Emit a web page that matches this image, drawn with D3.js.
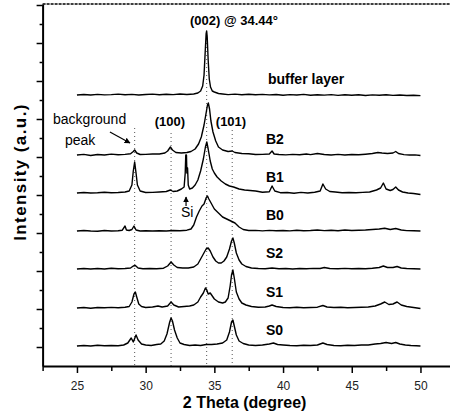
<!DOCTYPE html>
<html>
<head>
<meta charset="utf-8">
<script src="https://cdn.jsdelivr.net/npm/d3@7"></script>
<style>
  body { margin: 0; background: #fff; }
  svg { display: block; font-family: "Liberation Sans", Arial, sans-serif; }
</style>
</head>
<body>
<svg id="xrd" width="450" height="412"></svg>
<script>
// Stacked XRD patterns, 2 Theta 25-50 deg, offsets in arbitrary units.

const sampleNames = ["buffer layer", "B2", "B1", "B0", "S2", "S1", "S0"];
const offsets = [271, 211, 173, 135, 97, 58, 20];

const bufferLayer = [[25,0],[25.5,0.5],[26,0],[26.5,0.6],[27,0.1],[27.5,0.4],[28,0.9],[28.5,0.2],[29,0.6],[29.5,0],[30,0.5],[30.5,0.9],[31,0.3],[31.5,0.7],[32,0.4],[32.5,1],[33,0.5],[33.5,1],[33.8,2],[34,4],[34.15,9],[34.25,20],[34.33,42],[34.4,61],[34.44,64],[34.48,58],[34.55,35],[34.63,16],[34.72,8],[34.85,4],[35,3],[35.3,1.5],[35.6,1],[36,0.4],[36.5,0.9],[37,0.3],[37.5,0.7],[38,0.2],[38.5,0.6],[39,0.1],[39.5,0.5],[40,-0.2],[40.5,0.4],[41,0],[41.5,0.6],[42,-0.3],[42.5,0.3],[43,-0.1],[43.5,0.4],[44,-0.4],[44.5,0.2],[45,-0.2],[45.5,0.3],[46,-0.5],[46.5,0.1],[47,-0.3],[47.5,0.2],[48,-0.4],[48.5,0],[49,-0.5],[49.5,-0.2],[50,-0.6]];

const b2 = [[25,0],[25.5,0.6],[26,-0.5],[26.5,0.5],[27,0],[27.5,0.9],[28,0.2],[28.5,0.6],[28.9,1.2],[29.1,3.5],[29.2,5],[29.35,2],[29.6,0.5],[30,0.6],[30.5,1],[31,1],[31.4,2],[31.6,4],[31.8,8],[31.95,5],[32.2,2.5],[32.6,2],[33,2.5],[33.3,3.5],[33.6,6],[33.85,11],[34.05,18],[34.25,30],[34.4,42],[34.5,50],[34.56,52],[34.65,46],[34.75,34],[34.9,23],[35.1,14],[35.3,8],[35.6,5],[36,3.5],[36.3,4],[36.5,2.5],[37,1.5],[37.5,1.2],[38,0.5],[38.5,0.6],[39,1],[39.2,4],[39.35,1],[39.7,0.5],[40.2,0.1],[40.7,0.6],[41.2,0.3],[41.7,1],[42,0.4],[42.5,1.5],[43,0.5],[43.5,0],[44,0.6],[44.5,0],[45,0.5],[45.5,0.2],[46,0.8],[46.5,1.5],[46.9,2.5],[47.2,2],[47.6,1.5],[48,2],[48.2,3.5],[48.4,1.5],[48.8,0.4],[49.2,0],[49.6,0.1],[50,-0.5]];

const b1 = [[25,0],[25.5,0.5],[26,0],[26.5,0.3],[27,0.8],[27.5,0.3],[28,0.5],[28.5,1],[28.8,2],[29,8],[29.1,22],[29.2,31],[29.3,20],[29.4,8],[29.6,2],[30,0.5],[30.5,0.6],[31,1],[31.5,1.5],[31.8,3],[32,1.5],[32.3,2],[32.6,4],[32.8,6],[32.88,20],[32.92,38],[32.97,38],[33,20],[33.05,25],[33.1,8],[33.2,4],[33.4,5],[33.6,8],[33.8,13],[34,22],[34.2,34],[34.35,46],[34.45,51],[34.55,44],[34.7,32],[34.85,24],[35,20],[35.2,16],[35.5,12],[35.8,9],[36.1,7],[36.4,6],[36.8,4],[37.2,3],[37.6,2.5],[38,2],[38.5,0.8],[39,1.2],[39.2,7],[39.4,2],[39.8,0.3],[40.3,0.5],[40.8,-0.2],[41.3,0.6],[41.8,0],[42.3,0.8],[42.7,2],[42.9,9],[43.1,4],[43.4,1.5],[43.8,1],[44.3,0.3],[44.8,0.5],[45.3,0.2],[45.8,0.6],[46.3,1],[46.8,3],[47.1,5],[47.3,10],[47.5,4],[47.8,2.5],[48,3.5],[48.2,6],[48.4,3],[48.7,1],[49.1,0],[49.5,-0.5],[50,-1.5]];

const b0 = [[25,0],[25.5,0.5],[26,0],[26.5,-0.3],[27,0.5],[27.5,0],[28,0.3],[28.3,0.8],[28.5,5],[28.6,1],[28.8,0.5],[29,1.5],[29.15,5],[29.3,1],[29.6,0],[30,0.3],[30.5,0],[31,0.3],[31.5,0],[32,0.5],[32.5,0.3],[33,0.8],[33.3,2],[33.5,6],[33.7,14],[33.9,20],[34.1,25],[34.25,27],[34.4,33],[34.5,35],[34.6,32],[34.8,27],[35,22],[35.3,18],[35.6,14],[35.9,12],[36.2,10],[36.5,8],[36.8,4],[37.1,1.5],[37.5,0.5],[38,0.6],[38.5,0.1],[39,0.6],[39.5,0.2],[40,0.5],[40.5,0.1],[41,0.8],[41.5,0.3],[42,0.5],[42.5,1],[43,0.4],[43.5,0.8],[44,0.2],[44.5,1],[45,0.5],[45.5,0.8],[46,1],[46.5,1.5],[47,2],[47.4,2.8],[47.8,1.5],[48.2,2.5],[48.6,1],[49,0.4],[49.5,0.2],[50,0]];

const s2 = [[25,0],[25.5,0.5],[26,0],[26.5,0.5],[27,0],[27.5,0.8],[28,0.2],[28.5,0.5],[28.9,1],[29.1,3],[29.25,3.5],[29.45,1],[29.8,0.3],[30.3,0.5],[30.8,0.2],[31.3,0.8],[31.6,3],[31.85,7],[32.05,4],[32.3,1.5],[32.7,1],[33.1,1],[33.5,2],[33.8,5],[34,10],[34.2,15],[34.4,20],[34.55,21],[34.7,18],[34.9,12],[35.1,8],[35.3,6],[35.5,6],[35.7,8],[35.9,12],[36.1,20],[36.25,28],[36.35,31],[36.45,26],[36.6,16],[36.8,9],[37,5],[37.3,2.5],[37.7,1],[38.2,0.5],[38.7,0.3],[39.2,1],[39.7,0.3],[40.2,0.5],[40.7,0],[41.2,0.5],[41.7,0.3],[42.2,0.6],[42.7,0.5],[43,1.5],[43.4,0.5],[44,0.3],[44.5,0.6],[45,0.2],[45.5,0.5],[46,0.3],[46.5,0.8],[47,1.5],[47.3,3],[47.6,1.5],[48,1.5],[48.3,2.5],[48.6,1],[49,0.5],[49.5,0.3],[50,0]];

const s1 = [[25,0],[25.5,0.5],[26,-0.3],[26.5,0.5],[27,0.2],[27.5,0.6],[28,0.3],[28.5,0.8],[28.8,1.5],[29,6],[29.15,14],[29.25,16],[29.35,11],[29.5,4],[29.7,1.5],[30,0.5],[30.5,1],[30.9,2],[31.2,1],[31.6,2],[31.85,6],[32.05,3],[32.4,1],[32.8,1.5],[33.2,2],[33.5,3],[33.8,6],[34,11],[34.2,15],[34.35,20],[34.45,18],[34.55,14],[34.7,15],[34.85,12],[35,9],[35.3,6],[35.6,5],[35.8,6],[36,10],[36.15,22],[36.25,33],[36.35,38],[36.45,30],[36.6,16],[36.8,9],[37,5],[37.3,3],[37.7,1.5],[38.2,0.8],[38.7,1],[39,2],[39.2,3],[39.5,1.5],[40,0.5],[40.5,0.3],[41,0.8],[41.5,0.2],[42,0.5],[42.5,0.8],[42.9,2.5],[43.2,1],[43.7,0.5],[44.2,0.8],[44.7,0.3],[45.2,0.5],[45.7,0.8],[46.2,1],[46.7,2],[47.1,4],[47.4,6],[47.7,3.5],[48,4],[48.3,6],[48.6,3],[49,1.5],[49.5,0.5],[50,-0.5]];

const s0 = [[25,0],[25.5,0.5],[26,0],[26.5,0.8],[27,0.3],[27.5,0.5],[28,0.3],[28.4,1],[28.7,3],[28.95,8],[29.1,4],[29.3,11],[29.45,6],[29.7,2],[30,1],[30.4,0.5],[30.8,1.5],[31.1,2],[31.35,5],[31.55,12],[31.75,24],[31.85,28],[31.95,25],[32.1,16],[32.3,8],[32.5,3],[32.8,1.5],[33.2,0.5],[33.6,1],[34,0.5],[34.4,1.5],[34.8,1.5],[35.2,2],[35.6,3],[35.9,6],[36.1,14],[36.25,24],[36.35,26],[36.45,20],[36.6,11],[36.8,5],[37.1,2.5],[37.5,1],[38,0.5],[38.5,1],[39,2],[39.3,3],[39.6,1.5],[40,1],[40.5,0.5],[41,0.3],[41.5,0.8],[42,0.5],[42.5,1],[42.9,3],[43.2,1.5],[43.7,0.5],[44.2,0.2],[44.7,0.8],[45.2,0.5],[45.7,1],[46.2,1],[46.7,2],[47.1,2.5],[47.5,3.5],[47.9,2.5],[48.2,3.5],[48.5,2],[48.9,1],[49.3,0.5],[49.7,0.3],[50,0]];

const patterns = [bufferLayer, b2, b1, b0, s2, s1, s0];

// reference peak positions (dotted guides) and where each guide starts
const guidePeaks = [29.2, 31.85, 34.44, 36.3];
const guideTops = [238, 233, 331, 236];

const thetaTicks = [25, 30, 35, 40, 45, 50];

const svg = d3.select("#xrd");

const x = d3.scaleLinear().domain([22.5, 52.15]).range([42.6, 450]);
const y = d3.scaleLinear().domain([0, 362]).range([366, 4]);

// guides
svg.append("g")
  .selectAll("line")
  .data(guidePeaks)
  .join("line")
  .attr("x1", d => x(d))
  .attr("x2", d => x(d))
  .attr("y1", (d, i) => y(guideTops[i]))
  .attr("y2", y(0))
  .attr("stroke", "#555")
  .attr("stroke-width", 1)
  .attr("stroke-dasharray", "1,3");

// patterns
const line = d3.line();
svg.append("g")
  .selectAll("path")
  .data(patterns)
  .join("path")
  .attr("d", (d, i) => line(d.map(p => [x(p[0]), y(p[1] + offsets[i])])))
  .attr("fill", "none")
  .attr("stroke", "#000")
  .attr("stroke-width", 1.4)
  .attr("stroke-linejoin", "round");

// sample labels
svg.append("g")
  .selectAll("text")
  .data(sampleNames)
  .join("text")
  .attr("x", (d, i) => i === 0 ? x(38.9) : x(38.75))
  .attr("y", (d, i) => y(offsets[i] + 11))
  .attr("font-size", 14)
  .attr("font-weight", "bold")
  .text(d => d);

// axes
const xAxis = svg.append("g")
  .attr("transform", `translate(0,${y(0)})`)
  .call(d3.axisBottom(x).tickValues(thetaTicks).tickSize(7).tickSizeOuter(0).tickPadding(8));
svg.append("g")
  .attr("transform", `translate(0,${y(0)})`)
  .call(d3.axisBottom(x).tickValues(d3.range(22.5, 52, 5)).tickSize(5).tickSizeOuter(0).tickFormat(""))
  .call(g => g.select(".domain").remove());
xAxis.select(".domain").attr("stroke-width", 2);
xAxis.selectAll("text").attr("font-size", 12).attr("font-family", "Liberation Sans, Arial, sans-serif").attr("fill", "#222");

const yAxis = svg.append("g")
  .attr("transform", `translate(${x(22.5)},0)`)
  .call(d3.axisLeft(y).tickValues(d3.range(19, 362, 38)).tickSize(6).tickSizeOuter(0).tickFormat(""));
svg.append("g")
  .attr("transform", `translate(${x(22.5)},0)`)
  .call(d3.axisLeft(y).tickValues(d3.range(38, 362, 38)).tickSize(3).tickSizeOuter(0).tickFormat(""))
  .call(g => g.select(".domain").remove());
yAxis.select(".domain").attr("stroke-width", 2);
svg.selectAll(".tick line").attr("stroke-width", 1.5);

// top frame line
svg.append("line")
  .attr("x1", x(22.5)).attr("x2", 450)
  .attr("y1", y(362)).attr("y2", y(362))
  .attr("stroke", "#000")
  .attr("stroke-width", 1.5)
  .attr("stroke-dasharray", "3,1");

// annotations
const notes = [
  { t: "(002) @ 34.44°", th: 33.23, v: 341, bold: true, size: 13, anchor: "start" },
  { t: "(100)", th: 31.77, v: 240, bold: true, size: 13, anchor: "middle" },
  { t: "(101)", th: 36.21, v: 240, bold: true, size: 13, anchor: "middle" },
  { t: "background", th: 23.26, v: 242, bold: false, size: 14, anchor: "start" },
  { t: "peak", th: 24.13, v: 221, bold: false, size: 14, anchor: "start" },
  { t: "Si", th: 32.57, v: 149, bold: false, size: 14, anchor: "start" }
];
svg.append("g")
  .selectAll("text")
  .data(notes)
  .join("text")
  .attr("x", d => x(d.th))
  .attr("y", d => y(d.v))
  .attr("text-anchor", d => d.anchor)
  .attr("font-size", d => d.size)
  .attr("font-weight", d => d.bold ? "bold" : "normal")
  .text(d => d.t);

// arrows
svg.append("defs").append("marker")
  .attr("id", "head")
  .attr("viewBox", "0 0 10 10")
  .attr("refX", 9).attr("refY", 5)
  .attr("markerWidth", 5).attr("markerHeight", 5)
  .attr("orient", "auto")
  .append("path")
  .attr("d", "M0,0L10,5L0,10z")
  .attr("fill", "#000");

const arrows = [
  { from: [27.4, 234], to: [28.86, 223] },
  { from: [32.94, 160], to: [32.94, 169] }
];
svg.append("g")
  .selectAll("line")
  .data(arrows)
  .join("line")
  .attr("x1", d => x(d.from[0])).attr("y1", d => y(d.from[1]))
  .attr("x2", d => x(d.to[0])).attr("y2", d => y(d.to[1]))
  .attr("stroke", "#000")
  .attr("stroke-width", 1.2)
  .attr("marker-end", "url(#head)");

// axis titles
svg.append("text")
  .attr("x", x(37.2))
  .attr("y", 408)
  .attr("text-anchor", "middle")
  .attr("font-size", 16)
  .attr("font-weight", "bold")
  .text("2 Theta (degree)");

svg.append("text")
  .attr("transform", "translate(26,172) rotate(-90)")
  .attr("text-anchor", "middle")
  .attr("font-size", 17)
  .attr("font-weight", "bold")
  .attr("letter-spacing", 1.4)
  .text("Intensity (a.u.)");
</script>
</body>
</html>
